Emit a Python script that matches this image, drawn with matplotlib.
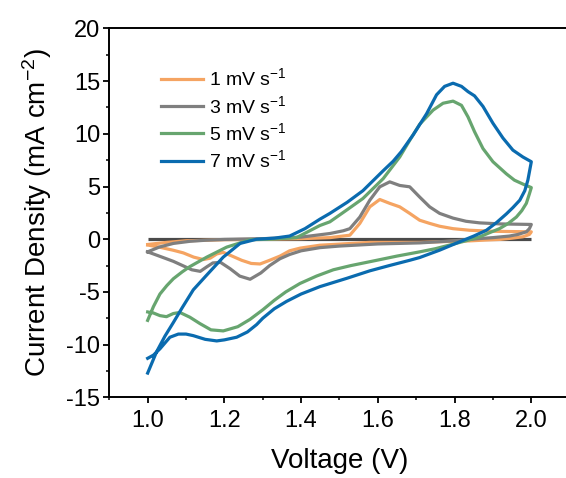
import matplotlib
matplotlib.use("Agg")
import matplotlib.pyplot as plt
import numpy as np

plt.rcParams['font.family'] = ['Liberation Sans', 'DejaVu Sans']
plt.rcParams['mathtext.default'] = 'regular'

# CV loops: forward (anodic) scan then reverse (cathodic) scan
v7_fwd = [1.000, 1.023, 1.045, 1.067, 1.090, 1.119, 1.154, 1.197, 1.241, 1.284, 1.330, 1.370,
          1.410, 1.449, 1.475, 1.520, 1.561, 1.614, 1.640, 1.661, 1.692, 1.727, 1.753, 1.774,
          1.796, 1.818, 1.835, 1.852, 1.874, 1.900, 1.926, 1.952, 1.978, 2.000]
i7_fwd = [-12.7, -10.7, -9.2, -7.9, -6.5, -4.8, -3.4, -1.7, -0.4, 0.0, 0.1, 0.3,
          1.0, 1.9, 2.45, 3.5, 4.6, 6.5, 7.4, 8.3, 9.9, 11.9, 13.7, 14.5,
          14.8, 14.5, 14.0, 13.6, 12.6, 11.0, 9.6, 8.45, 7.8, 7.35]
v7_rev = [2.000, 1.991, 1.983, 1.970, 1.952, 1.935, 1.910, 1.883, 1.850, 1.813, 1.761, 1.709,
          1.683, 1.630, 1.579, 1.520, 1.449, 1.400, 1.362, 1.330, 1.300, 1.284, 1.260, 1.232,
          1.200, 1.180, 1.150, 1.119, 1.100, 1.080, 1.058, 1.032, 1.015, 1.000]
i7_rev = [7.35, 5.6, 4.6, 3.7, 3.0, 2.4, 1.6, 0.85, 0.3, -0.25, -1.04, -1.74,
          -2.0, -2.5, -3.0, -3.7, -4.5, -5.2, -5.9, -6.6, -7.5, -8.1, -8.8, -9.3,
          -9.55, -9.65, -9.5, -9.15, -9.0, -9.0, -9.3, -10.4, -11.0, -11.3]

v5_fwd = [1.000, 1.015, 1.032, 1.050, 1.067, 1.090, 1.110, 1.154, 1.206, 1.267, 1.320, 1.388,
          1.449, 1.475, 1.520, 1.561, 1.614, 1.657, 1.685, 1.709, 1.744, 1.770, 1.796, 1.818,
          1.835, 1.852, 1.874, 1.900, 1.935, 1.956, 1.980, 2.000]
i5_fwd = [-7.7, -6.4, -5.2, -4.4, -3.75, -3.1, -2.6, -1.7, -0.75, -0.05, 0.0, 0.15,
          1.3, 1.65, 2.8, 3.86, 5.75, 7.8, 9.5, 10.9, 12.25, 12.9, 13.1, 12.7,
          11.6, 10.2, 8.6, 7.35, 6.2, 5.6, 5.2, 4.9]
v5_rev = [2.000, 1.995, 1.987, 1.975, 1.961, 1.940, 1.917, 1.890, 1.865, 1.830, 1.796, 1.750,
          1.709, 1.650, 1.597, 1.530, 1.484, 1.440, 1.397, 1.360, 1.330, 1.300, 1.267, 1.235,
          1.197, 1.165, 1.136, 1.110, 1.084, 1.067, 1.049, 1.032, 1.015, 1.000]
i5_rev = [4.9, 4.3, 3.4, 2.7, 2.1, 1.5, 1.0, 0.6, 0.22, -0.15, -0.47, -0.9,
          -1.2, -1.6, -2.0, -2.5, -2.9, -3.5, -4.2, -5.0, -5.8, -6.7, -7.6, -8.3,
          -8.7, -8.6, -8.0, -7.4, -6.95, -7.05, -7.35, -7.25, -7.0, -6.9]

v3_fwd = [1.000, 1.030, 1.067, 1.110, 1.150, 1.200, 1.300, 1.400, 1.475, 1.510, 1.527, 1.553,
          1.579, 1.605, 1.631, 1.657, 1.683, 1.709, 1.735, 1.761, 1.796, 1.830, 1.865, 1.920,
          2.000]
i3_fwd = [-1.2, -0.75, -0.4, -0.2, -0.1, -0.02, 0.05, 0.2, 0.54, 0.8, 1.0, 2.1,
          3.7, 4.97, 5.44, 5.1, 4.97, 4.0, 3.07, 2.45, 2.0, 1.7, 1.55, 1.45,
          1.4]
v3_rev = [2.000, 1.995, 1.987, 1.965, 1.943, 1.900, 1.865, 1.796, 1.709, 1.600, 1.500, 1.449,
          1.400, 1.370, 1.345, 1.318, 1.295, 1.267, 1.240, 1.215, 1.190, 1.170, 1.155, 1.137,
          1.115, 1.067, 1.030, 1.000]
i3_rev = [1.4, 1.0, 0.7, 0.45, 0.3, 0.15, 0.06, -0.16, -0.35, -0.45, -0.65, -0.8,
          -1.1, -1.45, -1.85, -2.5, -3.2, -3.8, -3.5, -2.8, -2.2, -2.25, -2.6, -3.05,
          -2.9, -2.1, -1.6, -1.2]

v1_fwd = [1.000, 1.050, 1.100, 1.200, 1.300, 1.400, 1.475, 1.527, 1.553, 1.579, 1.605, 1.631,
          1.657, 1.683, 1.709, 1.735, 1.761, 1.796, 1.839, 1.900, 2.000]
i1_fwd = [-0.5, -0.3, -0.15, -0.05, 0.0, 0.05, 0.15, 0.38, 1.5, 3.07, 3.77, 3.4,
          3.07, 2.45, 1.8, 1.5, 1.23, 1.0, 0.85, 0.75, 0.7]
v1_rev = [2.000, 1.995, 1.978, 1.950, 1.918, 1.880, 1.839, 1.796, 1.709, 1.658, 1.579, 1.484,
          1.449, 1.397, 1.370, 1.345, 1.318, 1.293, 1.270, 1.245, 1.220, 1.197, 1.180, 1.163,
          1.145, 1.120, 1.093, 1.067, 1.030, 1.000]
i1_rev = [0.7, 0.45, 0.23, 0.1, -0.02, -0.08, -0.16, -0.2, -0.3, -0.3, -0.3, -0.5,
          -0.57, -0.85, -1.1, -1.6, -2.0, -2.35, -2.3, -2.0, -1.6, -1.25, -1.4, -1.8,
          -1.93, -1.7, -1.3, -1.05, -0.75, -0.55]

v_base = [1.0, 2.0]
i_base = [0.0, 0.0]

labels = ['1 mV s$^{-1}$', '3 mV s$^{-1}$', '5 mV s$^{-1}$', '7 mV s$^{-1}$']
colors = ['#F5A462', '#7F7F7F', '#67A56F', '#0A6BAF']

fig = plt.figure(figsize=(5.66, 4.78), dpi=100)
ax = fig.add_axes([0.1931, 0.1688, 0.8134, 0.7718])

ax.plot(v_base, i_base, color='#4A4A4A', lw=2.3, solid_capstyle='butt')

loops = [(v1_fwd, i1_fwd, v1_rev, i1_rev),
         (v3_fwd, i3_fwd, v3_rev, i3_rev),
         (v5_fwd, i5_fwd, v5_rev, i5_rev),
         (v7_fwd, i7_fwd, v7_rev, i7_rev)]
for (vf, jf, vr, jr), lab, col in zip(loops, labels, colors):
    ax.plot(np.r_[vf, vr], np.r_[jf, jr], color=col, lw=2.3, label=lab,
            solid_joinstyle='round')

ax.set_xlim(0.9, 2.1)
ax.set_ylim(-15, 20)
ax.set_xticks(np.arange(1.0, 2.01, 0.2))
ax.set_xticks(np.arange(0.9, 2.11, 0.1), minor=True)
ax.set_yticks(np.arange(-15, 21, 5))
ax.set_yticks(np.arange(-15, 20.1, 2.5), minor=True)
ax.xaxis.set_major_formatter(plt.FormatStrFormatter('%.1f'))
ax.yaxis.set_major_formatter(plt.FormatStrFormatter('%d'))

for s in ax.spines.values():
    s.set_linewidth(1.4)
ax.tick_params(which='major', direction='out', length=4.5, width=1.3, labelsize=17)
ax.tick_params(axis='x', which='major', pad=4.5)
ax.tick_params(axis='y', which='major', pad=2)
ax.tick_params(which='minor', direction='out', length=2.5, width=1.1)

ax.set_xlabel('Voltage (V)', fontsize=20, labelpad=12)
ax.set_ylabel('Current Density (mA cm$^{-2}$)', fontsize=20, labelpad=9)

ax.legend(loc='upper left', bbox_to_anchor=(0.112, 0.894), frameon=False,
          fontsize=14, handlelength=2.15, handletextpad=0.35, labelspacing=0.28,
          borderpad=0, borderaxespad=0)

fig.savefig('out.png', dpi=100)
